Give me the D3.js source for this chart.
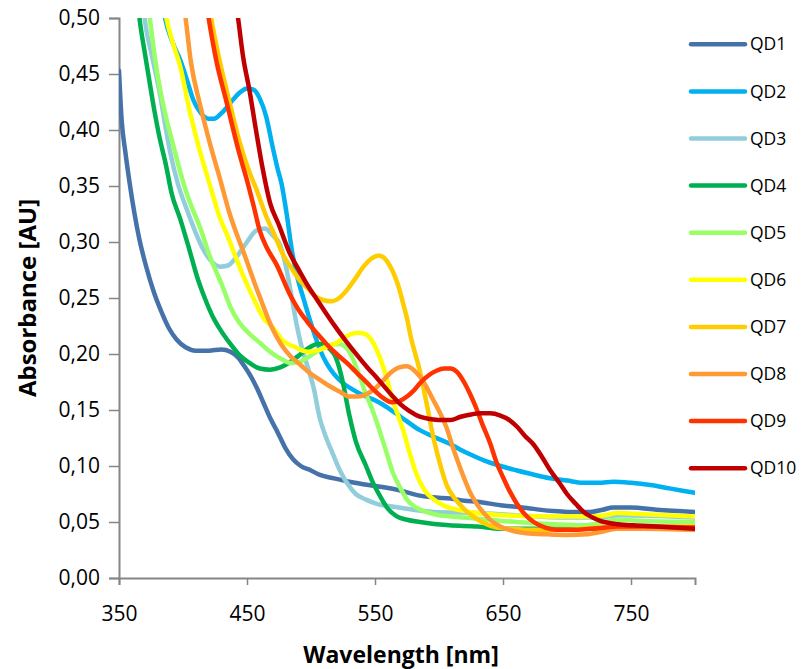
<!DOCTYPE html>
<html>
<head>
<meta charset="utf-8">
<script src="https://cdn.jsdelivr.net/npm/d3@7"></script>
<style>
  body { margin: 0; background: #fff; }
  text { font-family: "Open Sans", "Noto Sans", sans-serif; fill: #000; }
</style>
</head>
<body>
<svg id="chart" width="801" height="669"></svg>
<script>
// data: [wavelength nm, absorbance AU]
var names = ["QD1", "QD2", "QD3", "QD4", "QD5", "QD6", "QD7", "QD8", "QD9", "QD10"];
var colors = ["#4672AA", "#00B0F0", "#92CDDC", "#00B050", "#99FF66", "#FFFF00", "#FFCC00", "#FF9933", "#FF3300", "#C00000"];
var xTicks = [350, 450, 550, 650, 750];
var yTicks = [0, 0.05, 0.1, 0.15, 0.2, 0.25, 0.3, 0.35, 0.4, 0.45, 0.5];

var qd1 = [[350,0.453],[352,0.41],[355,0.38],[358,0.355],[362,0.326],[366,0.302],[371,0.279],[377,0.256],[383,0.238],[389,0.223],[395,0.213],[402,0.206],[410,0.203],[420,0.203],[430,0.204],[437,0.202],[443,0.197],[448,0.189],[453,0.18],[458,0.169],[463,0.156],[468,0.143],[474,0.13],[480,0.116],[486,0.106],[492,0.1],[500,0.096],[507,0.092],[518,0.089],[530,0.086],[545,0.083],[557,0.081],[570,0.078],[583,0.074],[595,0.072],[609,0.071],[620,0.069],[630,0.068],[648,0.065],[665,0.063],[687,0.06],[700,0.059],[718,0.059],[728,0.061],[736,0.063],[750,0.063],[770,0.061],[800,0.059]];
var qd2 = [[380,0.55],[386,0.5],[392,0.478],[398,0.462],[403,0.445],[408,0.427],[414,0.415],[420,0.41],[424,0.41],[430,0.415],[439,0.427],[445,0.434],[450,0.437],[455,0.436],[460,0.428],[465,0.412],[470,0.385],[474,0.365],[477,0.352],[481,0.325],[485,0.293],[489,0.27],[494,0.25],[502,0.22],[507,0.204],[512,0.192],[518,0.182],[525,0.174],[533,0.168],[541,0.163],[553,0.157],[560,0.152],[570,0.144],[585,0.132],[596,0.126],[608,0.12],[616,0.115],[625,0.11],[635,0.105],[648,0.1],[661,0.096],[675,0.092],[687,0.089],[700,0.087],[712,0.085],[725,0.085],[736,0.086],[750,0.085],[765,0.083],[780,0.08],[800,0.076]];
var qd3 = [[366,0.55],[370,0.5],[376,0.465],[382,0.432],[386,0.405],[390,0.38],[396,0.352],[403,0.329],[410,0.308],[416,0.293],[422,0.283],[429,0.278],[435,0.279],[442,0.287],[450,0.3],[457,0.31],[464,0.312],[470,0.306],[476,0.297],[481,0.275],[485,0.25],[489,0.225],[493,0.205],[497,0.19],[502,0.17],[507,0.142],[511,0.128],[517,0.111],[523,0.095],[528,0.085],[535,0.075],[543,0.07],[552,0.066],[562,0.064],[580,0.061],[596,0.059],[630,0.058],[660,0.056],[700,0.054],[725,0.054],[740,0.056],[800,0.054]];
var qd4 = [[362,0.55],[366,0.5],[370,0.47],[374,0.442],[378,0.415],[381,0.397],[387,0.367],[391,0.344],[398,0.32],[405,0.293],[411,0.269],[417,0.25],[423,0.234],[429,0.222],[437,0.209],[445,0.198],[452,0.192],[460,0.187],[468,0.186],[476,0.188],[484,0.193],[492,0.2],[499,0.206],[505,0.209],[510,0.209],[515,0.204],[519,0.198],[522,0.188],[525,0.174],[530,0.145],[535,0.122],[543,0.1],[548,0.086],[554,0.073],[560,0.062],[567,0.055],[575,0.052],[585,0.05],[608,0.047],[630,0.046],[648,0.044],[680,0.044],[720,0.044],[760,0.045],[800,0.045]];
var qd5 = [[370,0.53],[374,0.5],[378,0.465],[382,0.437],[386,0.415],[392,0.388],[398,0.362],[403,0.343],[408,0.328],[413,0.314],[421,0.287],[431,0.26],[437,0.242],[444,0.228],[452,0.218],[460,0.21],[468,0.202],[476,0.196],[484,0.192],[491,0.193],[499,0.198],[507,0.204],[515,0.208],[522,0.209],[528,0.205],[533,0.195],[538,0.18],[543,0.164],[548,0.15],[554,0.13],[559,0.112],[564,0.094],[570,0.08],[575,0.07],[582,0.063],[590,0.059],[600,0.056],[609,0.055],[630,0.053],[660,0.05],[690,0.048],[712,0.047],[725,0.049],[739,0.052],[760,0.051],[800,0.05]];
var qd6 = [[383,0.53],[387,0.5],[392,0.478],[398,0.456],[405,0.418],[413,0.382],[421,0.351],[429,0.321],[435,0.305],[439,0.293],[447,0.27],[452,0.257],[457,0.245],[463,0.232],[470,0.224],[478,0.212],[488,0.206],[497,0.202],[505,0.203],[512,0.206],[520,0.21],[528,0.216],[536,0.219],[542,0.218],[547,0.213],[552,0.202],[556,0.19],[560,0.175],[564,0.158],[568,0.145],[572,0.132],[577,0.112],[582,0.094],[589,0.078],[596,0.07],[605,0.064],[614,0.061],[630,0.058],[650,0.056],[687,0.055],[718,0.055],[730,0.056],[739,0.058],[760,0.057],[800,0.055]];
var qd7 = [[418,0.53],[422,0.5],[429,0.46],[437,0.422],[444,0.39],[452,0.362],[458,0.345],[465,0.323],[472,0.305],[478,0.289],[485,0.276],[491,0.266],[498,0.258],[504,0.251],[510,0.248],[516,0.247],[522,0.25],[528,0.257],[535,0.268],[541,0.278],[547,0.285],[553,0.288],[557,0.286],[562,0.278],[566,0.268],[569,0.258],[572,0.245],[575,0.232],[578,0.215],[582,0.198],[585,0.185],[588,0.169],[591,0.152],[594,0.134],[598,0.114],[602,0.097],[606,0.083],[611,0.073],[616,0.066],[622,0.059],[628,0.054],[635,0.049],[645,0.045],[655,0.044],[670,0.043],[700,0.043],[725,0.045],[740,0.046],[800,0.046]];
var qd8 = [[398,0.53],[402,0.5],[406,0.462],[413,0.424],[421,0.388],[429,0.356],[436,0.327],[441,0.31],[447,0.292],[452,0.276],[456,0.263],[461,0.248],[466,0.233],[471,0.22],[477,0.208],[484,0.198],[492,0.19],[499,0.183],[507,0.177],[515,0.171],[523,0.166],[530,0.162],[537,0.162],[543,0.164],[550,0.169],[556,0.176],[562,0.183],[569,0.188],[575,0.189],[580,0.186],[585,0.18],[590,0.171],[595,0.16],[601,0.147],[606,0.134],[611,0.116],[616,0.1],[620,0.088],[624,0.077],[629,0.067],[635,0.058],[641,0.051],[648,0.046],[658,0.042],[668,0.04],[685,0.039],[700,0.0385],[715,0.039],[726,0.041],[739,0.044],[760,0.044],[800,0.043]];
var qd9 = [[416,0.53],[420,0.5],[426,0.462],[434,0.425],[444,0.379],[450,0.355],[455,0.333],[460,0.31],[465,0.296],[473,0.28],[484,0.252],[490,0.24],[497,0.229],[505,0.218],[512,0.209],[520,0.2],[528,0.192],[536,0.183],[544,0.174],[550,0.167],[556,0.161],[563,0.157],[569,0.158],[575,0.162],[580,0.167],[586,0.175],[592,0.181],[598,0.185],[604,0.187],[609,0.187],[614,0.184],[619,0.176],[624,0.165],[629,0.152],[634,0.137],[640,0.12],[645,0.103],[650,0.09],[655,0.078],[661,0.066],[667,0.057],[674,0.05],[683,0.045],[692,0.043],[705,0.043],[718,0.044],[730,0.045],[739,0.046],[760,0.046],[800,0.045]];
var qd10 = [[439,0.53],[443,0.5],[447,0.465],[452,0.435],[457,0.4],[462,0.367],[468,0.335],[475,0.315],[483,0.291],[491,0.274],[498,0.26],[505,0.248],[512,0.236],[518,0.226],[527,0.212],[536,0.199],[544,0.188],[552,0.178],[558,0.17],[564,0.162],[570,0.155],[577,0.149],[585,0.144],[593,0.142],[601,0.141],[609,0.141],[617,0.144],[625,0.146],[633,0.147],[640,0.147],[648,0.145],[655,0.141],[661,0.135],[667,0.127],[674,0.119],[680,0.109],[687,0.096],[694,0.085],[700,0.075],[707,0.066],[713,0.059],[720,0.054],[726,0.051],[740,0.048],[752,0.047],[770,0.046],[800,0.044]];

var series = [qd1, qd2, qd3, qd4, qd5, qd6, qd7, qd8, qd9, qd10];

// plot box (not named "top": that is taken by window.top)
var plotL = 119, plotR = 695, plotT = 18, plotB = 578;
var svg = d3.select("#chart");

var x = d3.scaleLinear().domain([350, 800]).range([plotL, plotR]);
var y = d3.scaleLinear().domain([0, 0.5]).range([plotB, plotT]);

svg.append("clipPath").attr("id", "plotClip")
  .append("rect").attr("x", plotL).attr("y", plotT).attr("width", plotR - plotL).attr("height", plotB - plotT);

// axes
var fmt = function(d) { return d3.format(".2f")(d).replace(".", ","); };

var yAxis = svg.append("g").attr("transform", "translate(" + plotL + ",0)")
  .call(d3.axisLeft(y).tickValues(yTicks).tickFormat(fmt).tickSizeOuter(0).tickSize(10).tickPadding(9));
var xAxis = svg.append("g").attr("transform", "translate(0," + plotB + ")")
  .call(d3.axisBottom(x).tickValues(xTicks).tickFormat(d3.format("d")).tickSizeOuter(0).tickSize(7).tickPadding(21));

[yAxis, xAxis].forEach(function(g) {
  g.select(".domain").attr("stroke", "#868686").attr("stroke-width", 2);
  g.selectAll(".tick line").attr("stroke", "#868686").attr("stroke-width", 1.5);
  g.selectAll(".tick text").style("font-size", "21px").attr("fill", "#000");
});

// lines
var line = d3.line()
  .x(function(d) { return x(d[0]); })
  .y(function(d) { return y(d[1]); })
  .curve(d3.curveMonotoneX);

svg.append("g").attr("clip-path", "url(#plotClip)")
  .selectAll("path").data(series).enter().append("path")
  .attr("d", line)
  .attr("fill", "none")
  .attr("stroke", function(d, i) { return colors[i]; })
  .attr("stroke-width", 4.5)
  .attr("stroke-linejoin", "round")
  .attr("stroke-linecap", "round");

// axis titles
svg.append("text")
  .attr("x", 401).attr("y", 663)
  .attr("text-anchor", "middle")
  .style("font-size", "23px").style("font-weight", "bold")
  .text("Wavelength [nm]");

svg.append("text")
  .attr("transform", "translate(36,298) rotate(-90)")
  .attr("text-anchor", "middle")
  .style("font-size", "24px").style("font-weight", "bold")
  .text("Absorbance [AU]");

// legend
var legend = svg.append("g").selectAll("g").data(names).enter().append("g")
  .attr("transform", function(d, i) { return "translate(690," + (44.3 + i * 47.1) + ")"; });

legend.append("line")
  .attr("x1", 1).attr("x2", 55)
  .attr("stroke", function(d, i) { return colors[i]; })
  .attr("stroke-width", 4.5)
  .attr("stroke-linecap", "round");

legend.append("text")
  .attr("x", 60).attr("dy", "0.35em")
  .style("font-size", "17.5px")
  .text(function(d) { return d; });
</script>
</body>
</html>
